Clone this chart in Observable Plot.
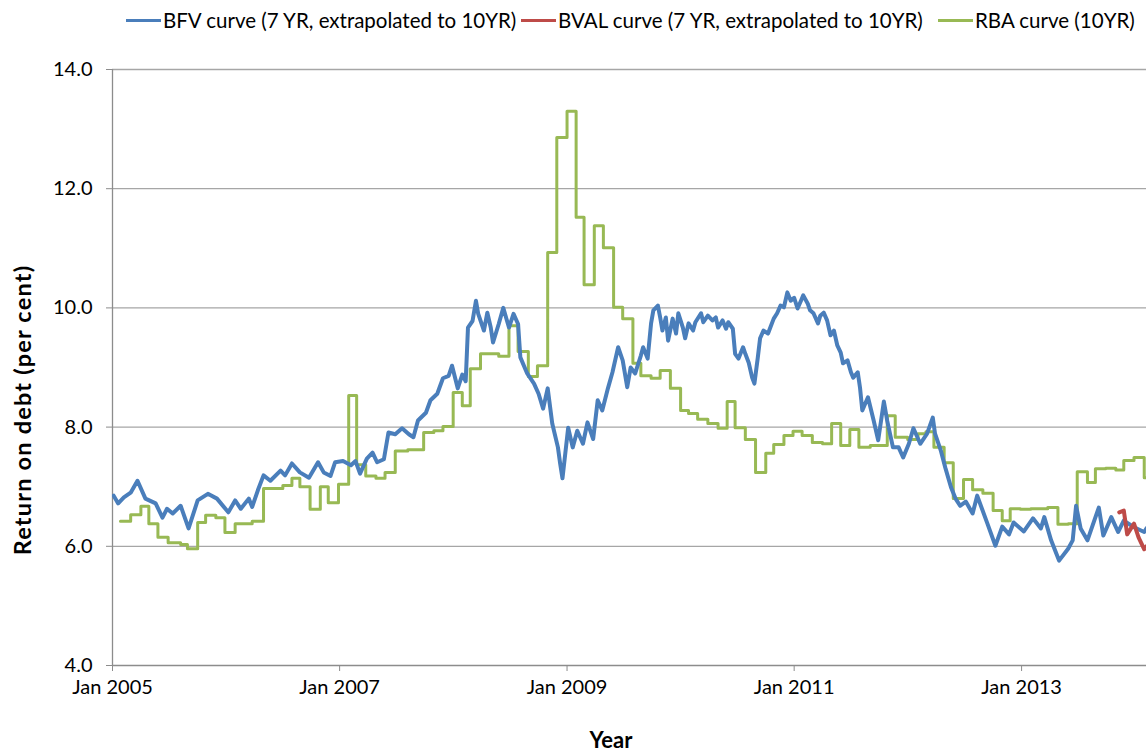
<!DOCTYPE html>
<html>
<head>
<meta charset="utf-8">
<script src="https://cdn.jsdelivr.net/npm/d3@7"></script>
<script src="https://cdn.jsdelivr.net/npm/@observablehq/plot@0.6"></script>
<style>
  html, body { margin: 0; padding: 0; background: #fff; }
  body { width: 1146px; height: 756px; position: relative; overflow: hidden; font-family: Lato, "Open Sans", sans-serif; color: #000; }
  #legend { position: absolute; left: 0; top: 0; width: 1146px; height: 40px; }
  .item { position: absolute; top: 8px; display: flex; align-items: center; font-size: 20.5px; white-space: nowrap; }
  .sw { width: 35px; height: 3px; margin-right: 2px; }
  #chart { position: absolute; left: 0; top: 40px; }
  #ytitle { position: absolute; left: 22px; top: 410px; transform: translate(-50%, -50%) rotate(-90deg); font-weight: bold; font-size: 23.5px; letter-spacing: 1.2px; white-space: nowrap; }
  #xtitle { position: absolute; left: 611px; top: 740px; transform: translate(-50%, -50%); font-weight: bold; font-size: 22px; line-height: 24px; }
</style>
</head>
<body>
<div id="legend"></div>
<div id="chart"></div>
<div id="ytitle">Return on debt (per cent)</div>
<div id="xtitle">Year</div>
<script>
// ---- data (decimal year, per cent) ----
const seriesNames = ["BFV curve (7 YR, extrapolated to 10YR)", "BVAL curve (7 YR, extrapolated to 10YR)", "RBA curve (10YR)"];
const seriesColors = ["#4a7ebb", "#be4b48", "#98b954"];
const yTicks = [4, 6, 8, 10, 12, 14];
const xTickYears = [2005, 2007, 2009, 2011, 2013];

const bfv = [
[2005.01,6.85],[2005.05,6.72],[2005.10,6.82],[2005.16,6.90],[2005.22,7.10],[2005.29,6.80],[2005.38,6.72],
[2005.44,6.48],[2005.48,6.63],[2005.53,6.55],[2005.60,6.68],[2005.67,6.30],[2005.75,6.77],[2005.84,6.88],
[2005.92,6.80],[2006.02,6.57],[2006.08,6.77],[2006.13,6.63],[2006.20,6.80],[2006.23,6.66],[2006.28,6.94],
[2006.33,7.19],[2006.39,7.10],[2006.48,7.27],[2006.52,7.19],[2006.58,7.39],[2006.65,7.24],[2006.73,7.15],
[2006.81,7.41],[2006.86,7.24],[2006.92,7.18],[2006.96,7.41],[2007.03,7.43],[2007.10,7.36],[2007.14,7.43],
[2007.18,7.22],[2007.24,7.47],[2007.29,7.57],[2007.33,7.41],[2007.39,7.46],[2007.43,7.91],[2007.49,7.88],
[2007.55,7.98],[2007.61,7.88],[2007.65,7.83],[2007.69,8.11],[2007.76,8.24],[2007.80,8.45],[2007.86,8.56],
[2007.91,8.82],[2007.96,8.86],[2007.99,9.03],[2008.04,8.65],[2008.08,8.88],[2008.11,8.77],[2008.13,9.67],
[2008.17,9.78],[2008.20,10.12],[2008.22,9.90],[2008.27,9.62],[2008.30,9.92],[2008.33,9.67],[2008.35,9.42],
[2008.40,9.73],[2008.44,10.00],[2008.49,9.67],[2008.53,9.90],[2008.57,9.73],[2008.59,9.17],[2008.65,8.90],
[2008.71,8.73],[2008.75,8.56],[2008.79,8.31],[2008.83,8.65],[2008.87,8.06],[2008.92,7.66],[2008.94,7.38],
[2008.96,7.14],[2009.01,7.99],[2009.05,7.66],[2009.09,7.94],[2009.14,7.72],[2009.18,8.08],[2009.23,7.80],
[2009.27,8.45],[2009.31,8.28],[2009.36,8.65],[2009.40,8.92],[2009.45,9.34],[2009.49,9.12],[2009.53,8.67],
[2009.56,9.00],[2009.60,8.90],
[2009.65,9.20],[2009.67,9.34],[2009.71,9.15],[2009.74,9.74],[2009.76,9.96],[2009.80,10.04],[2009.82,9.84],
[2009.84,9.62],[2009.87,9.84],[2009.89,9.45],[2009.93,9.82],[2009.96,9.57],[2009.98,9.91],[2010.02,9.67],
[2010.04,9.49],[2010.07,9.74],[2010.11,9.62],[2010.13,9.76],[2010.18,9.91],[2010.20,9.76],[2010.24,9.87],
[2010.28,9.79],[2010.31,9.84],[2010.33,9.67],[2010.37,9.79],[2010.40,9.65],[2010.42,9.76],[2010.46,9.65],
[2010.48,9.23],[2010.51,9.15],[2010.55,9.34],[2010.57,9.23],[2010.60,9.08],[2010.63,8.83],[2010.65,8.73],
[2010.68,9.17],[2010.70,9.49],[2010.73,9.62],[2010.77,9.57],[2010.79,9.67],[2010.82,9.82],[2010.85,9.91],
[2010.88,10.04],[2010.91,10.01],[2010.94,10.26],[2010.97,10.12],[2011.00,10.17],[2011.03,9.99],[2011.06,10.12],
[2011.08,10.21],[2011.12,10.07],[2011.14,9.96],[2011.17,9.91],[2011.21,9.74],[2011.23,9.87],[2011.26,9.92],
[2011.29,9.79],[2011.32,9.54],[2011.35,9.62],[2011.38,9.37],[2011.41,9.25],[2011.43,9.07],[2011.47,9.12],
[2011.50,8.92],[2011.52,8.83],[2011.56,8.92],[2011.58,8.66],
[2011.60,8.28],[2011.65,8.50],
[2011.70,8.11],[2011.74,7.78],[2011.79,8.43],[2011.82,8.10],[2011.87,7.66],[2011.92,7.66],[2011.96,7.49],
[2012.01,7.72],[2012.05,7.98],[2012.11,7.72],[2012.17,7.89],[2012.22,8.16],[2012.24,7.89],[2012.29,7.61],
[2012.33,7.32],[2012.38,6.99],[2012.42,6.80],[2012.46,6.68],[2012.51,6.75],[2012.57,6.55],[2012.61,6.85],
[2012.70,6.38],[2012.77,6.01],[2012.83,6.33],[2012.89,6.20],[2012.93,6.40],[2013.02,6.25],[2013.10,6.47],
[2013.17,6.30],[2013.20,6.49],[2013.26,6.10],[2013.33,5.76],[2013.41,5.96],[2013.45,6.10],[2013.48,6.68],
[2013.52,6.30],[2013.58,6.10],[2013.64,6.43],[2013.68,6.65],[2013.72,6.18],[2013.79,6.49],[2013.85,6.24],
[2013.90,6.43],[2013.99,6.32],[2014.08,6.24],[2014.10,6.30]
];

const bval = [
[2013.86,6.57],[2013.90,6.60],[2013.93,6.20],[2013.99,6.38],[2014.03,6.15],[2014.08,5.95],[2014.10,6.00]
];

const rba = [
[2005.07,6.42],[2005.16,6.53],[2005.25,6.67],[2005.32,6.38],[2005.40,6.15],[2005.49,6.06],[2005.60,6.03],
[2005.66,5.96],[2005.75,6.40],[2005.82,6.52],[2005.91,6.48],[2005.99,6.23],[2006.08,6.38],[2006.23,6.42],
[2006.33,6.97],[2006.50,7.02],[2006.58,7.14],[2006.65,7.00],[2006.74,6.62],[2006.83,7.00],[2006.90,6.73],
[2006.99,7.04],[2007.08,8.53],[2007.15,7.37],[2007.23,7.18],[2007.32,7.14],[2007.40,7.24],[2007.49,7.60],
[2007.60,7.62],[2007.74,7.91],[2007.83,7.94],[2007.91,8.01],[2008.00,8.58],[2008.08,8.36],[2008.15,8.98],
[2008.24,9.23],[2008.40,9.19],[2008.49,9.70],[2008.57,9.27],[2008.66,8.85],[2008.74,9.03],[2008.83,10.93],
[2008.91,12.86],[2009.00,13.30],[2009.08,11.52],[2009.15,10.39],[2009.24,11.38],[2009.32,11.01],[2009.41,10.01],
[2009.49,9.82],[2009.58,9.07],[2009.65,8.86],[2009.74,8.82],[2009.82,8.95],[2009.91,8.65],[2010.00,8.28],
[2010.07,8.23],[2010.15,8.13],[2010.24,8.06],[2010.33,7.98],[2010.41,8.43],[2010.48,7.99],[2010.57,7.79],
[2010.66,7.24],[2010.75,7.56],[2010.82,7.71],[2010.91,7.86],[2010.99,7.93],[2011.07,7.86],[2011.16,7.74],
[2011.25,7.72],[2011.33,8.06],[2011.41,7.69],[2011.49,7.96],[2011.57,7.66],[2011.67,7.69],[2011.82,8.19],
[2011.89,7.83],[2012.00,7.79],[2012.09,7.89],[2012.16,7.92],[2012.23,7.66],[2012.32,7.40],[2012.40,6.80],
[2012.49,7.12],[2012.57,6.95],[2012.66,6.89],[2012.75,6.60],[2012.83,6.43],[2012.90,6.63],[2012.99,6.62],
[2013.08,6.63],[2013.23,6.65],[2013.32,6.37],[2013.41,6.38],[2013.49,7.25],[2013.58,7.07],[2013.65,7.30],
[2013.74,7.31],[2013.83,7.28],[2013.90,7.44],[2013.99,7.49],[2014.08,7.15],[2014.10,7.15]
];

const xDomainYears = [2005.0, 2014.10];

// ---- helpers ----
function dec(y) {
  const yr = Math.floor(y);
  const s = Date.UTC(yr, 0, 1), e = Date.UTC(yr + 1, 0, 1);
  return new Date(s + (y - yr) * (e - s));
}
const toRows = arr => arr.map(([t, v]) => ({date: dec(t), value: v}));

// legend
const legendPos = [126, 521, 938];
const legend = document.getElementById("legend");
seriesNames.forEach((n, i) => {
  const it = document.createElement("div");
  it.className = "item";
  it.style.left = legendPos[i] + "px";
  const sw = document.createElement("div");
  sw.className = "sw";
  sw.style.background = seriesColors[i];
  const tx = document.createElement("span");
  tx.textContent = n;
  it.appendChild(sw); it.appendChild(tx);
  legend.appendChild(it);
});

const gridColor = "#a6a6a6";
const axisColor = "#8c8c8c";

const chart = Plot.plot({
  width: 1146,
  height: 716,
  marginLeft: 112,
  marginRight: 0,
  marginTop: 29,
  marginBottom: 91,
  style: {fontFamily: "Lato, 'Open Sans', sans-serif", fontSize: "20px", color: "#000", background: "#fff", overflow: "visible"},
  x: {type: "utc", domain: xDomainYears.map(dec)},
  y: {domain: [4, 14]},
  marks: [
    Plot.gridY(yTicks.filter(d => d > 4), {stroke: gridColor, strokeOpacity: 1, strokeWidth: 1.3}),
    Plot.ruleX([dec(xDomainYears[0])], {stroke: axisColor, strokeWidth: 1.3}),
    Plot.ruleY([4], {stroke: axisColor, strokeWidth: 1.3}),
    Plot.axisY(yTicks, {tickSize: 6, tickPadding: 14, tickFormat: d3.format(".1f"), stroke: axisColor, label: null, fontSize: 20}),
    Plot.axisX(xTickYears.map(dec), {tickSize: 6, tickPadding: 8, tickFormat: d3.utcFormat("%b %Y"), stroke: axisColor, label: null, fontSize: 20}),
    Plot.line(toRows(rba), {x: "date", y: "value", stroke: seriesColors[2], strokeWidth: 3, curve: "step-after", clip: true}),
    Plot.line(toRows(bfv), {x: "date", y: "value", stroke: seriesColors[0], strokeWidth: 4, strokeLinejoin: "round", clip: true}),
    Plot.line(toRows(bval), {x: "date", y: "value", stroke: seriesColors[1], strokeWidth: 4, strokeLinejoin: "round", clip: true})
  ]
});
document.getElementById("chart").appendChild(chart);
</script>
</body>
</html>
